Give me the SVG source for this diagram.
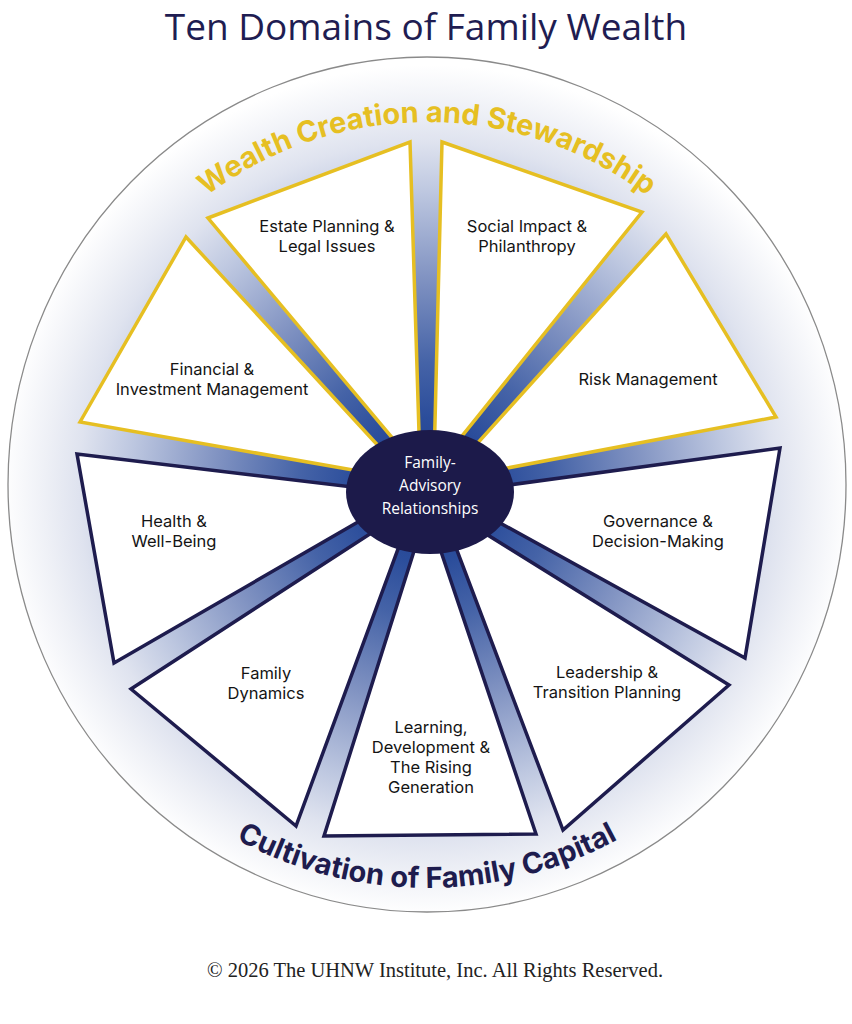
<svg xmlns="http://www.w3.org/2000/svg" width="852" height="1024" viewBox="0 0 852 1024">
<defs>
<radialGradient id="bg" gradientUnits="userSpaceOnUse" cx="427" cy="490" r="425">
<stop offset="0" stop-color="#1e3c8a"/>
<stop offset="0.17" stop-color="#2b4d9b"/>
<stop offset="0.3" stop-color="#4563a7"/>
<stop offset="0.5" stop-color="#8193c2"/>
<stop offset="0.7" stop-color="#bdc7e0"/>
<stop offset="0.82" stop-color="#dfe3ef"/>
<stop offset="0.9" stop-color="#eef0f6"/>
<stop offset="1" stop-color="#ffffff"/>
</radialGradient>
<path id="arcTop" d="M 61,488 A 366,366 0 0 1 793,488"/>
<path id="arcBot" d="M 27,488 A 400,400 0 0 0 827,488"/>
</defs>
<style>
.wg{fill:#ffffff;stroke-width:3.5;stroke-linejoin:miter}
.gold{stroke:#e6bf22}
.navy{stroke:#1e1c4e}
.lbl{font-family:Inter,"Liberation Sans",sans-serif;font-size:16.5px;fill:#141414;text-anchor:middle}
.ctr{font-family:"Open Sans","Liberation Sans",sans-serif;font-size:15.5px;fill:#ffffff;text-anchor:middle}
.arc{font-family:Inter,"Liberation Sans",sans-serif;font-size:29px;font-weight:700}
</style>
<rect width="852" height="1024" fill="#ffffff"/>
<text x="426" y="40" font-family="'Open Sans','Liberation Sans',sans-serif" font-size="37" fill="#1f1d52" text-anchor="middle">Ten Domains of Family Wealth</text>
<g id="background">
<ellipse cx="427" cy="484.5" rx="419" ry="427.5" fill="url(#bg)" stroke="#8a8a8a" stroke-width="1.3"/>
</g>
<g id="arc-labels">
<text class="arc" fill="#e6bf22"><textPath href="#arcTop" startOffset="50%" text-anchor="middle">Wealth Creation and Stewardship</textPath></text>
<text class="arc" fill="#1e1c4e"><textPath href="#arcBot" startOffset="50%" text-anchor="middle">Cultivation of Family Capital</textPath></text>
</g>
<g id="estate">
<polygon class="wg gold" points="208,218 410,142 420.2,471.2"/>
<text class="lbl" x="327" y="232">Estate Planning &amp;</text>
<text class="lbl" x="327" y="252">Legal Issues</text>
</g>
<g id="social">
<polygon class="wg gold" points="442,142 642,212 433.8,471.2"/>
<text class="lbl" x="527" y="232">Social Impact &amp;</text>
<text class="lbl" x="527" y="252">Philanthropy</text>
</g>
<g id="risk">
<polygon class="wg gold" points="666,234 776,417 444.3,480"/>
<text class="lbl" x="648" y="385">Risk Management</text>
</g>
<g id="governance">
<polygon class="wg navy" points="780,448 745,658 446.7,493.5"/>
<text class="lbl" x="658" y="527">Governance &amp;</text>
<text class="lbl" x="658" y="547">Decision-Making</text>
</g>
<g id="leadership">
<polygon class="wg navy" points="729,685 563,830 439.9,505.3"/>
<text class="lbl" x="607" y="678">Leadership &amp;</text>
<text class="lbl" x="607" y="698">Transition Planning</text>
</g>
<g id="learning">
<polygon class="wg navy" points="536,834 324,836 427,510"/>
<text class="lbl" x="431" y="733">Learning,</text>
<text class="lbl" x="431" y="753">Development &amp;</text>
<text class="lbl" x="431" y="773">The Rising</text>
<text class="lbl" x="431" y="793">Generation</text>
</g>
<g id="family">
<polygon class="wg navy" points="296,826 131,689 414.1,505.3"/>
<text class="lbl" x="266" y="679">Family</text>
<text class="lbl" x="266" y="699">Dynamics</text>
</g>
<g id="health">
<polygon class="wg navy" points="114,663 77,454 407.3,493.5"/>
<text class="lbl" x="174" y="527">Health &amp;</text>
<text class="lbl" x="174" y="547">Well-Being</text>
</g>
<g id="financial">
<polygon class="wg gold" points="80,422 186,237 409.7,480"/>
<text class="lbl" x="212" y="375">Financial &amp;</text>
<text class="lbl" x="212" y="395">Investment Management</text>
</g>
<g id="center">
<ellipse cx="430" cy="492" rx="84" ry="62" fill="#1c1a4a"/>
<text class="ctr" x="430" y="468">Family-</text>
<text class="ctr" x="430" y="491">Advisory</text>
<text class="ctr" x="430" y="514">Relationships</text>
</g>
<text x="435" y="977" font-family="'Liberation Serif',serif" font-size="20.5" fill="#222222" text-anchor="middle">© 2026 The UHNW Institute, Inc. All Rights Reserved.</text>
</svg>
